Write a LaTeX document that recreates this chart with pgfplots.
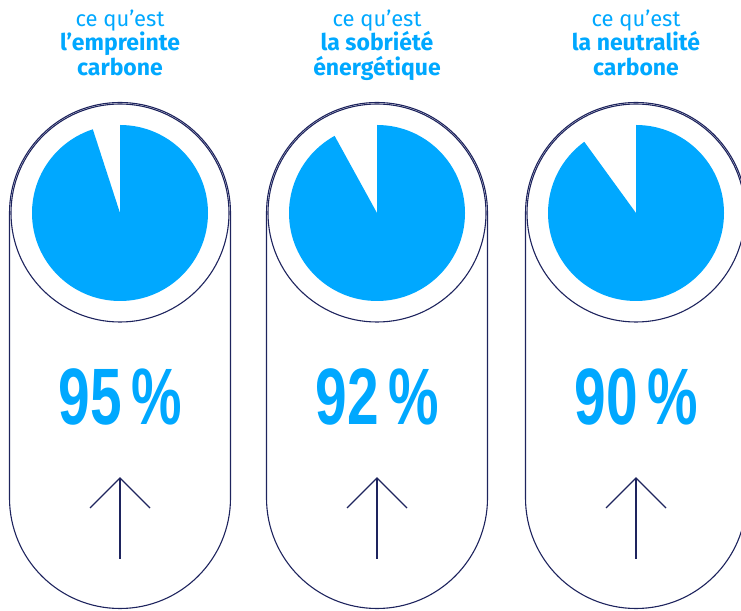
\documentclass[border=0pt]{standalone}
\usepackage{pgfplots}
\pgfplotsset{compat=1.18}
\usepackage{fontspec}
\setmainfont{Fira Sans}
\newfontfamily\numfont{Liberation Sans}
\definecolor{pieblue}{RGB}{0,168,255}
\definecolor{navy}{RGB}{30,36,94}
\begin{document}
\begin{tikzpicture}
\begin{axis}[scale only axis, width=741pt, height=610pt,
  xmin=0, xmax=741, ymin=0, ymax=610, hide axis, clip=true]
% ---- pies (values 95, 92, 90 %) ----
\fill[pieblue] (axis cs:120,397) -- (axis cs:120,485) arc[start angle=90, end angle={90-3.6*95}, radius=88pt] -- cycle;
\fill[pieblue] (axis cs:377,397) -- (axis cs:377,485) arc[start angle=90, end angle={90-3.6*92}, radius=88pt] -- cycle;
\fill[pieblue] (axis cs:636,397) -- (axis cs:636,485) arc[start angle=90, end angle={90-3.6*90}, radius=88pt] -- cycle;
% ---- capsules ----
\pgfplotsinvokeforeach{120,377,636}{
  \draw[navy, line width=1.1pt] (axis cs:#1-110.5,397) -- (axis cs:#1-110.5,112)
     arc[start angle=180, end angle=360, radius=110.5pt] -- (axis cs:#1+110.5,397)
     arc[start angle=0, end angle=180, radius=110.5pt] -- cycle;
  \draw[navy, line width=1.1pt] (axis cs:#1,397) circle[radius=109pt];
  \draw[navy, line width=1.1pt] (axis cs:#1,51) -- (axis cs:#1,132);
  \draw[navy, line width=1.1pt] (axis cs:#1-30,102) -- (axis cs:#1,132) -- (axis cs:#1+30,102);
}
% ---- percentages ----
\node[anchor=base, text=pieblue, xscale=0.71, font=\numfont\bfseries\fontsize{80}{80}\selectfont] at (axis cs:120,185) {95\,\%};
\node[anchor=base, text=pieblue, xscale=0.71, font=\numfont\bfseries\fontsize{80}{80}\selectfont] at (axis cs:377,185) {92\,\%};
\node[anchor=base, text=pieblue, xscale=0.71, font=\numfont\bfseries\fontsize{80}{80}\selectfont] at (axis cs:636,185) {90\,\%};
% ---- titles ----
\node[anchor=base, text=pieblue, font=\fontsize{22}{25}\selectfont] at (axis cs:120,583) {ce qu’est};
\node[anchor=base, text=pieblue, font=\bfseries\fontsize{23}{25}\selectfont] at (axis cs:120,559) {l’empreinte};
\node[anchor=base, text=pieblue, font=\bfseries\fontsize{23}{25}\selectfont] at (axis cs:120,534) {carbone};
\node[anchor=base, text=pieblue, font=\fontsize{22}{25}\selectfont] at (axis cs:377,583) {ce qu’est};
\node[anchor=base, text=pieblue, font=\bfseries\fontsize{23}{25}\selectfont] at (axis cs:377,559) {la sobriété};
\node[anchor=base, text=pieblue, font=\bfseries\fontsize{23}{25}\selectfont] at (axis cs:377,534) {énergétique};
\node[anchor=base, text=pieblue, font=\fontsize{22}{25}\selectfont] at (axis cs:636,583) {ce qu’est};
\node[anchor=base, text=pieblue, font=\bfseries\fontsize{23}{25}\selectfont] at (axis cs:636,559) {la neutralité};
\node[anchor=base, text=pieblue, font=\bfseries\fontsize{23}{25}\selectfont] at (axis cs:636,534) {carbone};
\end{axis}
\pgfresetboundingbox
\path[use as bounding box] (0,0) rectangle (741pt,610pt);
\end{tikzpicture}
\end{document}
